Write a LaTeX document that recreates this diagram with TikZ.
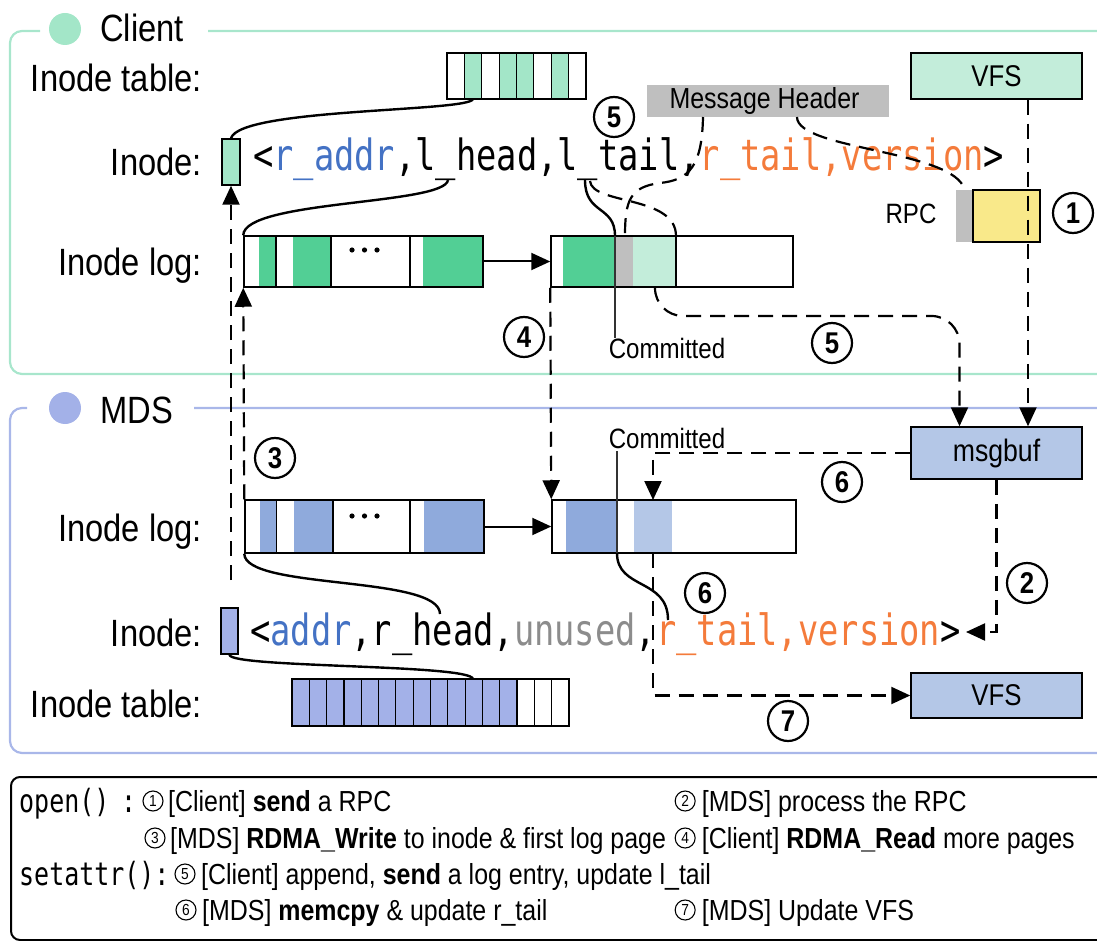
\documentclass[tikz,border=0pt]{standalone}
\usepackage{fontspec}
\usepackage{graphicx}
\setmainfont{Liberation Sans}[FakeStretch=0.86]
\newfontfamily\monof{DejaVu Sans Mono}[FakeStretch=0.784]
\newfontfamily\monol{DejaVu Sans Mono}[FakeStretch=0.78]
\usetikzlibrary{arrows.meta,calc}
\definecolor{cframe}{HTML}{A8E6CC}
\definecolor{cgreen}{HTML}{A3E6C8}
\definecolor{dkgreen}{HTML}{52CF95}
\definecolor{ltgreen}{HTML}{C3EDDA}
\definecolor{hgray}{HTML}{BFBFBF}
\definecolor{yel}{HTML}{F9E98A}
\definecolor{mframe}{HTML}{A9B7E9}
\definecolor{mlav}{HTML}{A3B1E8}
\definecolor{dkblue}{HTML}{8FAADC}
\definecolor{ltblue}{HTML}{B4C7E7}
\definecolor{tblue}{HTML}{4472C4}
\definecolor{torange}{HTML}{F47B3B}
\definecolor{tgray}{HTML}{8C8C8C}
\begin{document}
\begin{tikzpicture}[x=1pt,y=-1pt,
  box/.style={draw=black, line width=1.5pt, inner sep=0pt},
  curv/.style={line width=2.4pt, black},
  dsh/.style={line width=2.2pt, dash pattern=on 15pt off 9pt},
  arr/.style={-{Triangle[width=17pt,length=19pt]}},
  thinln/.style={line width=1.2pt, black!80},
  cnum/.style={circle, draw, line width=2.2pt, minimum size=40pt, inner sep=0pt, font=\fontsize{30}{30}\selectfont\bfseries},
  lnum/.style={circle, draw, line width=1.1pt, minimum size=20pt, inner sep=0pt, font=\fontsize{16}{16}\selectfont},
  lbl/.style={inner sep=0pt, font=\fontsize{38}{40}\selectfont},
  ltxt/.style={inner sep=0pt, anchor=base west, font=\fontsize{29}{32}\selectfont},
  mono/.style={inner sep=0pt, anchor=base west, font=\monof\fontsize{43}{43}\selectfont},
  lmono/.style={inner sep=0pt, anchor=base west, font=\monol\fontsize{32}{32}\selectfont},
]
\useasboundingbox (0,0) rectangle (1097,941);
\clip (0,0) rectangle (1097,941);

% ---------- frames ----------
\draw[cframe, line width=2.2pt, rounded corners=12pt] (40,31) -- (10,31) -- (10,374) -- (1130,374) -- (1130,31) -- (208,31);
\draw[mframe, line width=2.2pt, rounded corners=12pt] (27,408) -- (10,408) -- (10,753) -- (1130,753) -- (1130,408) -- (194,408);
\draw[black, line width=2pt, rounded corners=9pt] (1130,777) -- (11,777) -- (11,940) -- (1130,940);

% ---------- titles ----------
\node[circle, fill=cgreen, minimum size=32pt, inner sep=0pt] (cdot) at (65,29) {};
\node[lbl, anchor=base west] (ctitle) at (100,42) {Client};
\node[circle, fill=mlav, minimum size=32pt, inner sep=0pt] (mdot) at (65,408) {};
\node[lbl, anchor=base west] (mtitle) at (100,423) {MDS};

% ---------- row labels ----------
\node[lbl, anchor=base east] (l_ctab) at (202,92) {Inode table:};
\node[lbl, anchor=base east] (l_cino) at (202,176) {Inode:};
\node[lbl, anchor=base east] (l_clog) at (202,276) {Inode log:};
\node[lbl, anchor=base east] (l_mlog) at (202,541) {Inode log:};
\node[lbl, anchor=base east] (l_mino) at (202,646) {Inode:};
\node[lbl, anchor=base east] (l_mtab) at (202,717) {Inode table:};

% ---------- client inode table ----------
\foreach \i/\f in {0/white,1/cgreen,2/white,3/cgreen,4/cgreen,5/white,6/cgreen,7/white}
  \draw[line width=1.2pt, fill=\f] ({447+\i*17.375},53) rectangle ({447+(\i+1)*17.375},99);
\node[inner sep=0pt, minimum width=139pt, minimum height=46pt] (ctable) at (516.5,76) {};

% ---------- MDS inode table ----------
\foreach \i in {0,...,12}
  \draw[line width=1.2pt, fill=mlav] ({292+\i*17.31},679) rectangle ({292+(\i+1)*17.31},726);
\foreach \i in {13,14,15}
  \draw[line width=1.2pt, fill=white] ({292+\i*17.31},679) rectangle ({292+(\i+1)*17.31},726);
\node[inner sep=0pt, minimum width=277pt, minimum height=47pt] (mtable) at (430.5,702.5) {};

% ---------- inode rects ----------
\node[box, fill=cgreen, minimum width=18pt, minimum height=46pt] (cinode) at (231,162) {};
\node[box, fill=mlav, minimum width=17pt, minimum height=46pt] (minode) at (229.5,631) {};

% ---------- inode text ----------
\node[mono] (ctext) at (253,171) {<\textcolor{tblue}{r\_addr},l\_head,l\_tail,\textcolor{torange}{r\_tail,version}>};
\node[mono] (mtext) at (250,645) {<\textcolor{tblue}{addr},r\_head,\textcolor{tgray}{unused},\textcolor{torange}{r\_tail,version}>};

% ---------- client boxes ----------
\node[box, fill=ltgreen, minimum width=171pt, minimum height=46pt, font=\fontsize{30}{30}\selectfont] (cvfs) at (996.5,76) {VFS};
\node[fill=hgray, minimum width=242pt, minimum height=32pt, inner sep=0pt, font=\fontsize{29}{29}\selectfont] (msghdr) at (768,101) {Message Header~~};
\node[fill=hgray, minimum width=17pt, minimum height=52pt, inner sep=0pt] (rpcg) at (964.5,216) {};
\node[box, fill=yel, minimum width=67pt, minimum height=52pt] (rpc) at (1006.5,216) {};
\node[inner sep=0pt, font=\fontsize{28}{28}\selectfont] (rpclbl) at (911,214) {RPC};

% client log 1
\fill[dkgreen] (259,236) rectangle (276,287);
\fill[dkgreen] (293,236) rectangle (331,287);
\fill[dkgreen] (423,236) rectangle (483,287);
\draw[line width=1.5pt] (276,236) -- (276,287) (331,236) -- (331,287) (410,236) -- (410,287);
\fill (352,250) circle (2.6pt) (364.5,250) circle (2.6pt) (377,250) circle (2.6pt);
\node[box, minimum width=239pt, minimum height=51pt] (clog1) at (363.5,261.5) {};
% client log 2
\fill[dkgreen] (563,236) rectangle (615,287);
\fill[hgray] (615,236) rectangle (633,287);
\fill[ltgreen] (633,236) rectangle (676,287);
\draw[line width=1.5pt] (676,236) -- (676,287);
\node[box, minimum width=242pt, minimum height=51pt] (clog2) at (672,261.5) {};

% ---------- MDS boxes ----------
\node[box, fill=ltblue, minimum width=171pt, minimum height=52pt, font=\fontsize{31}{31}\selectfont] (msgbuf) at (996.5,453) {msgbuf};
\node[box, fill=ltblue, minimum width=171pt, minimum height=45pt, font=\fontsize{30}{30}\selectfont] (mvfs) at (996.5,695.5) {VFS};
% MDS log 1
\fill[dkblue] (260,500) rectangle (276.5,553);
\fill[dkblue] (294,500) rectangle (333,553);
\fill[dkblue] (424,500) rectangle (484,553);
\draw[line width=1.5pt] (276.5,500) -- (276.5,553) (333,500) -- (333,553) (410,500) -- (410,553);
\fill (352,516) circle (2.6pt) (364.5,516) circle (2.6pt) (377,516) circle (2.6pt);
\node[box, minimum width=239pt, minimum height=53pt] (mlog1) at (364.5,526.5) {};
% MDS log 2
\fill[dkblue] (566,500) rectangle (617,553);
\fill[ltblue] (634,500) rectangle (672,553);
\node[box, minimum width=244pt, minimum height=53pt] (mlog2) at (674,526.5) {};

% ---------- committed labels ----------
\node[inner sep=0pt, font=\fontsize{28}{28}\selectfont] (ccom) at (667,348) {Committed};
\node[inner sep=0pt, font=\fontsize{28}{28}\selectfont] (mcom) at (667,438) {Committed};

% ---------- attachment points ----------
\coordinate (ct2) at (473,99);
\coordinate (lhead) at (448,180);
\coordinate (ltail) at (585,180);
\coordinate (ltailb) at (590,181);
\coordinate (ccommtop) at (615,236);
\coordinate (ltgtop) at (676,236);
\coordinate (graytop) at (625,236);
\coordinate (mh1) at (703,117);
\coordinate (mh2) at (797,117);
\coordinate (ltgbot) at (655,287);
\coordinate (m3a) at (231,580);
\coordinate (mcomtop) at (617,451);
\coordinate (mcombot) at (617,553);
\coordinate (ltbtop) at (653,500);
\coordinate (ltbbot) at (653,553);
\coordinate (rhead) at (440,614);
\coordinate (rtailr) at (668,620);
\coordinate (mt11) at (473,679);
\coordinate (gt) at (966,632);

% ---------- connectors (client) ----------
\draw[curv] (ct2) .. controls (470,112) and (240,108) .. (cinode.north);
\draw[curv] (lhead) .. controls (445,205) and (244,200) .. (clog1.north west);
\draw[curv] (ltail) .. controls (585,215) and (615,205) .. (ccommtop);
\draw[thinln] (ccommtop) -- (ccommtop |- ccom.north);
\draw[dsh] (ltailb) .. controls (592,205) and (676,195) .. (ltgtop);
\draw[dsh] (mh1) .. controls (702,165) and (690,180) .. (660,183) .. controls (630,187) and (625,200) .. (graytop);
\draw[dsh] (mh2) .. controls (797,150) and (955,150) .. (rpcg.north);
\draw[line width=2pt, arr] (clog1.east) -- (clog2.west);
\draw[dsh, arr, rounded corners=28pt] (ltgbot) -- (655,316) -- (959.5,316) -- ([xshift=-37pt]msgbuf.north);
\draw[dsh, arr] ([xshift=31.5pt]cvfs.south) -- ([xshift=31.5pt]msgbuf.north);
\draw[dsh, arr] (clog2.south west) -- (mlog2.north west);
\draw[dsh, arr] (m3a) -- (cinode.south);
\draw[dsh, arr] (mlog1.north west) -- (clog1.south west);

% ---------- connectors (MDS) ----------
\draw[line width=2pt, arr] (mlog1.east) -- (mlog2.west);
\draw[dsh, arr] (msgbuf.west) -- (653,453) -- (ltbtop);
\draw[thinln] (mcomtop) -- (mcombot);
\draw[curv] (mcombot) .. controls (617,590) and (668,578) .. (rtailr);
\draw[curv] (mlog1.south west) .. controls (245,590) and (440,575) .. (rhead);
\draw[curv] (minode.south) .. controls (229.5,668) and (471,664) .. (mt11);
\draw[dsh, arr] (msgbuf.south) -- (996.5,632) -- (gt);
\draw[dsh, arr] (ltbbot) -- (653,695.5) -- (mvfs.west);

% ---------- circled numbers ----------
\node[cnum] (n1) at (1073,213) {1};
\node[cnum] (n2) at (1027,583) {2};
\node[cnum] (n3) at (275,458) {3};
\node[cnum] (n4) at (524,337) {4};
\node[cnum] (n5a) at (614,117) {5};
\node[cnum] (n5b) at (832,343) {5};
\node[cnum] (n6a) at (842,482) {6};
\node[cnum] (n6b) at (705,593) {6};
\node[cnum] (n7) at (788,721) {7};

% ---------- legend ----------
\node[lmono] (lopen) at (19,812) {open()};
\node[lmono] (col1) at (121,812) {:};
\node[lmono] (lset) at (19,885) {setattr():};
\node[lnum] (g1) at (153,801) {1};
\node[ltxt] (t1) at (168,811.4) {[Client] \textbf{send} a RPC};
\node[lnum] (g3) at (155,838) {3};
\node[ltxt] (t3) at (170,848.4) {[MDS] \textbf{RDMA\_Write} to inode \& first log page};
\node[lnum] (g5) at (185,874) {5};
\node[ltxt] (t5) at (201,884.4) {[Client] append, \textbf{send} a log entry, update l\_tail};
\node[lnum] (g6) at (186,910) {6};
\node[ltxt] (t6) at (202,920.4) {[MDS] \textbf{memcpy} \& update r\_tail};
\node[lnum] (g4) at ($(t3.base east)+(19,-10.4)$) {4};
\node[ltxt] (t4) at ($(g4.east)+(6,10.4)$) {[Client] \textbf{RDMA\_Read} more pages};
\node[lnum] (g2) at (g4 |- g1) {2};
\node[ltxt] (t2) at ($(g2.east)+(6,10.4)$) {[MDS] process the RPC};
\node[lnum] (g7) at (g4 |- g6) {7};
\node[ltxt] (t7) at ($(g7.east)+(6,10.4)$) {[MDS] Update VFS};
\end{tikzpicture}
\end{document}
